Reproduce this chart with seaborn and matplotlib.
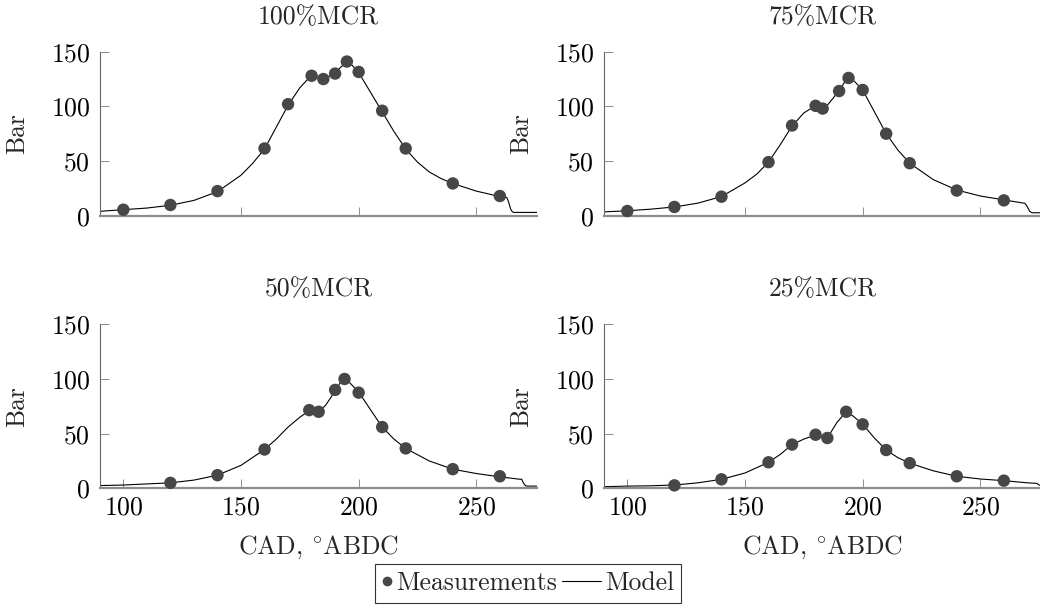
import numpy as np
import pandas as pd
import matplotlib
matplotlib.use("Agg")
import matplotlib.pyplot as plt
from matplotlib.lines import Line2D
from matplotlib.font_manager import FontProperties
from matplotlib.legend_handler import HandlerBase
import seaborn as sns

# ---------------- data ----------------
titles = ["100%MCR", "75%MCR", "50%MCR", "25%MCR"]

meas_x_100 = [100, 120, 140, 160, 170, 180, 185, 190, 195, 200, 210, 220, 240, 260]
meas_y_100 = [5.5, 9.8, 22.5, 61.5, 102, 128, 125, 130, 141, 131.5, 96, 61.5, 29.5, 18]

meas_x_75 = [100, 120, 140, 160, 170, 180, 183, 190, 194, 200, 210, 220, 240, 260]
meas_y_75 = [4.3, 8, 17.4, 49, 82.5, 100.5, 98, 114, 126, 115, 75, 48, 23, 14]

meas_x_50 = [120, 140, 160, 179, 183, 190, 194, 200, 210, 220, 240, 260]
meas_y_50 = [5, 12, 35.5, 71.5, 70, 90, 100, 87.5, 56, 36.5, 17.5, 11]

meas_x_25 = [120, 140, 160, 170, 180, 185, 193, 200, 210, 220, 240, 260]
meas_y_25 = [2.7, 8.2, 23.8, 40, 49, 46, 70, 58.5, 35, 23, 11, 7]

model_x_100 = [90, 100, 110, 120, 130, 140, 150, 155, 160, 165, 170, 175, 178, 180, 183,
               185, 188, 190, 193, 195, 197, 200, 205, 210, 215, 220, 225, 230, 235, 240,
               250, 260, 262, 263, 263.8, 264.6, 265.3, 266, 276]
model_y_100 = [4, 5.5, 7, 9.5, 14, 22, 37, 48, 61, 81, 101, 117, 124, 127, 126.5,
               125.5, 128, 131, 137, 140, 138, 131, 113, 95, 77, 61, 49, 40, 34, 29.5,
               22.5, 17.5, 16.8, 16.6, 12, 6, 3.5, 3, 3]

model_x_75 = [90, 100, 110, 120, 130, 140, 150, 155, 160, 165, 170, 175, 178, 180, 183,
              185, 188, 190, 192, 194, 196, 200, 205, 210, 215, 220, 230, 240, 250, 260,
              267, 269, 270, 271, 272, 276]
model_y_75 = [3.5, 4.5, 6, 8, 11.5, 17.5, 30, 38, 49, 65, 82, 94, 98, 100, 99,
              101, 109, 115, 121, 126, 124, 115, 95, 75, 60, 48, 33, 23.5, 18, 14.5,
              12, 11.3, 8, 4, 2.7, 2.7]

model_x_50 = [90, 100, 110, 120, 130, 140, 150, 160, 165, 170, 175, 179, 181, 183,
              186, 190, 192, 194, 196, 200, 205, 210, 215, 220, 230, 240, 250, 260,
              268, 269.3, 270, 270.8, 271.5, 276]
model_y_50 = [2.5, 3, 4, 5, 7.5, 12, 21, 35.5, 45, 56, 65, 71, 71, 70,
              76, 89, 96, 100, 97, 88, 72, 56, 45, 36.5, 25, 17.5, 13.5, 10.5,
              8.4, 8.2, 5, 2.5, 2, 2]

model_x_25 = [90, 100, 110, 120, 130, 140, 150, 160, 165, 170, 175, 180, 185, 189,
              193, 196, 200, 205, 210, 215, 220, 230, 240, 250, 260, 270, 274, 275, 276]
model_y_25 = [1.5, 2, 2.3, 3, 5, 8.2, 14, 23.8, 31, 40, 45, 48.8, 46, 60,
              70, 66, 58.6, 46, 35, 28, 23, 16, 11, 8.5, 7, 5, 4.5, 3, 2.5]

x_ticks = [100, 150, 200, 250]
y_ticks = [0, 50, 100, 150]

meas = [(meas_x_100, meas_y_100), (meas_x_75, meas_y_75),
        (meas_x_50, meas_y_50), (meas_x_25, meas_y_25)]
model = [(model_x_100, model_y_100), (model_x_75, model_y_75),
         (model_x_50, model_y_50), (model_x_25, model_y_25)]

# ---------------- style ----------------
sns.set_style("ticks")
plt.rcParams["font.family"] = ["cmr10", "DejaVu Serif"]
plt.rcParams["mathtext.fontset"] = "cm"
plt.rcParams["axes.formatter.use_mathtext"] = True
FS = 18.5
mcol = "#474747"
tickcol = "#8c8c8c"

fig = plt.figure(figsize=(10.4, 6.1), dpi=100)
W, H = 1040.0, 610.0
lefts = [99.8, 603.8]
bottoms = [394.3, 121.7]
aw, ah = 437.7, 164.0

for i in range(4):
    r, c = divmod(i, 2)
    ax = fig.add_axes([lefts[c] / W, bottoms[r] / H, aw / W, ah / H])
    mx, my = model[i]
    px, py = meas[i]
    sns.lineplot(x=mx, y=my, ax=ax, color="black", linewidth=0.8,
                 errorbar=None, sort=False, zorder=2)
    sns.scatterplot(x=px, y=py, ax=ax, color=mcol, s=80, edgecolor="none",
                    zorder=3, clip_on=False)
    ax.set_xlim(90, 276)
    ax.set_ylim(0, 150)
    ax.set_xticks(x_ticks)
    ax.set_yticks(y_ticks)
    for s in ["top", "right"]:
        ax.spines[s].set_visible(False)
    ax.spines["left"].set_color("#666666")
    ax.spines["left"].set_linewidth(0.8)
    ax.spines["bottom"].set_color(tickcol)
    ax.spines["bottom"].set_linewidth(1.6)
    ax.tick_params(axis="both", direction="in", length=6.5, width=0.7,
                   color=tickcol, labelsize=FS, labelcolor="black")
    ax.tick_params(axis="y", pad=7)
    ax.tick_params(axis="x", pad=5.5)
    ax.set_title(titles[i], fontsize=FS, pad=20)
    ax.set_ylabel("Bar", fontsize=FS)
    ax.yaxis.set_label_coords(-0.162, 0.5)
    if r == 0:
        ax.tick_params(axis="x", labelbottom=False)
        ax.set_xlabel("")
    else:
        ax.set_xlabel(r"CAD, $^{\circ}\mathrm{ABDC}$", fontsize=FS, labelpad=10)


class DotHandler(HandlerBase):
    def create_artists(self, legend, orig_handle, xdescent, ydescent,
                       width, height, fontsize, trans):
        y = height / 2.0 - ydescent
        x = width / 2.0 - xdescent
        a = Line2D([x], [y], marker="o", ls="none", color=mcol,
                   markersize=7, markeredgewidth=0, transform=trans)
        return [a]


class LongLineHandler(HandlerBase):
    def create_artists(self, legend, orig_handle, xdescent, ydescent,
                       width, height, fontsize, trans):
        y = height / 2.0 - ydescent
        ext = 1.12 * fontsize
        a = Line2D([-xdescent - ext, width - xdescent], [y, y], color="black",
                   lw=0.8, transform=trans)
        return [a]


h_dot = Line2D([], [], marker="o", ls="none", color=mcol)
h_line = Line2D([], [], color="black", lw=0.8)
leg = fig.legend([h_dot, h_line], ["Measurements", "Model"], loc="center",
                 bbox_to_anchor=(528 / W, 1 - 583.5 / H), ncol=2,
                 handler_map={h_dot: DotHandler(), h_line: LongLineHandler()},
                 prop=FontProperties(family=["cmr10", "DejaVu Serif"], size=FS),
                 frameon=True, fancybox=False, edgecolor="black",
                 handlelength=0.4, handletextpad=0.15, columnspacing=1.3,
                 borderpad=0.28, borderaxespad=0)
leg.get_frame().set_linewidth(0.8)

fig.savefig("out.png", dpi=100)
